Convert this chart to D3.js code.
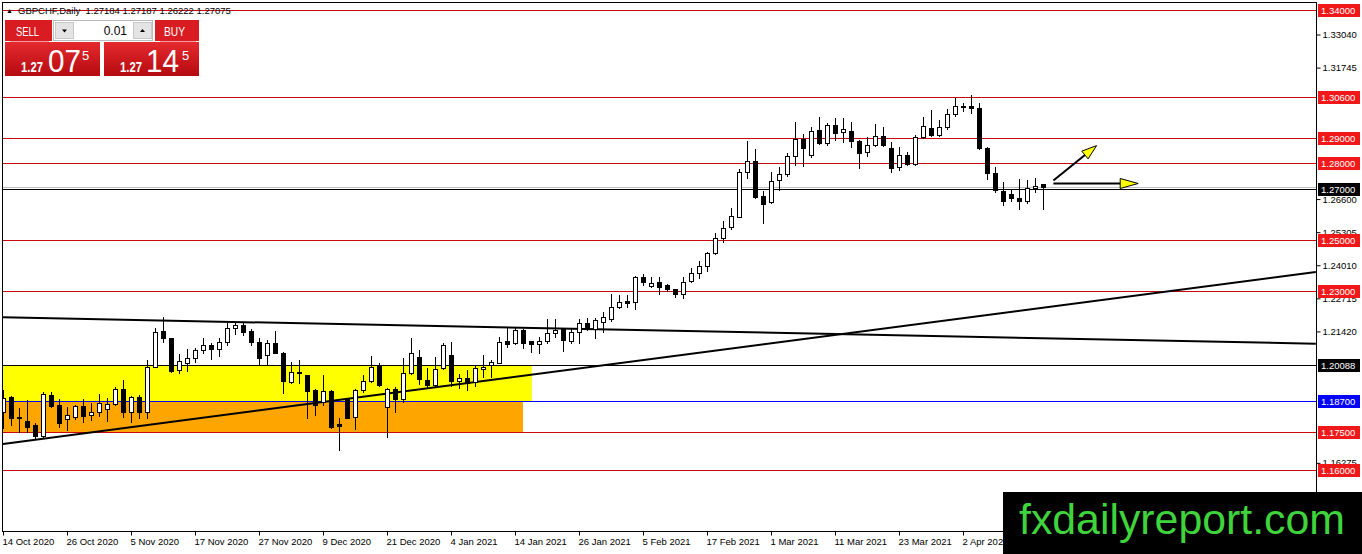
<!DOCTYPE html>
<html>
<head>
<meta charset="utf-8">
<script src="https://cdn.jsdelivr.net/npm/d3@7"></script>
<style>
    body { margin: 0; background: #fff; overflow: hidden; }
    svg text { font-family: "Liberation Sans", Arial, sans-serif; }
</style>
</head>
<body>
<svg id="chart"></svg>
<script>
const RED_LINE =    '#c80a0a';
const RED_BOX =     '#f01818';
const BLUE_LINE =   '#0000ff';
const YELLOW_ZONE = '#ffff00';
const ORANGE_ZONE = '#ffa500';
const MARK_GREEN =  '#3fd43c';

// Daily GBPCHF candles, 14 Oct 2020 .. 16 Apr 2021
const opens = [1.18279,1.18866,1.18070,1.17914,1.17758,1.17340,1.18931,1.18540,1.17979,1.18083,
    1.18501,1.18135,1.18253,1.18370,1.18566,1.19153,1.18279,1.18866,1.18279,1.20040,
    1.21436,1.21149,1.19910,1.20171,1.20366,1.20693,1.20888,1.20732,1.20993,1.21540,
    1.21671,1.21449,1.20993,1.20497,1.20953,1.20588,1.19453,1.19831,1.19701,1.19127,
    1.18670,1.19088,1.17784,1.18762,1.18057,1.19127,1.19492,1.20066,1.18475,1.19153,
    1.18762,1.19779,1.20405,1.19518,1.19323,1.19975,1.20484,1.19492,1.19584,1.19453,
    1.19936,1.20092,1.20197,1.21045,1.20953,1.21475,1.21045,1.20915,1.21045,1.21345,
    1.21502,1.21058,1.21384,1.21737,1.21515,1.21802,1.21893,1.22389,1.22598,1.22585,
    1.23537,1.23211,1.23341,1.23224,1.23067,1.22885,1.23407,1.23694,1.23981,1.24476,
    1.25063,1.25520,1.25911,1.27646,1.28090,1.26720,1.26498,1.27347,1.27568,1.28286,
    1.28938,1.28325,1.29303,1.28782,1.29499,1.29212,1.29277,1.28873,1.28429,1.28716,
    1.29069,1.28586,1.27842,1.28325,1.27973,1.29016,1.29369,1.29108,1.29408,1.29917,
    1.30243,1.30243,1.30151,1.28586,1.27634,1.26929,1.26785,1.26629,1.26525,1.27020,
    1.27184];
const highs = [1.19127,1.18892,1.18410,1.18736,1.17823,1.19062,1.19062,1.18762,1.18475,1.18540,
    1.18762,1.18631,1.18957,1.18801,1.19231,1.19518,1.18892,1.18931,1.20301,1.21540,
    1.21997,1.21175,1.20536,1.20719,1.20758,1.21149,1.20953,1.21149,1.21762,1.21801,
    1.21736,1.21501,1.21149,1.21084,1.21449,1.20627,1.20210,1.20301,1.19714,1.19153,
    1.19714,1.19127,1.18018,1.18801,1.19166,1.19714,1.20458,1.20171,1.19192,1.19257,
    1.20366,1.21149,1.20693,1.19975,1.20405,1.20953,1.21019,1.19740,1.19910,1.20105,
    1.20497,1.20301,1.21214,1.21580,1.21540,1.21502,1.21058,1.21215,1.21906,1.21906,
    1.21541,1.21515,1.21893,1.21932,1.21932,1.22167,1.22885,1.22846,1.22846,1.23589,
    1.23667,1.23563,1.23563,1.23276,1.23093,1.23563,1.23889,1.24176,1.24541,1.25259,
    1.25755,1.26238,1.27764,1.28873,1.28547,1.26916,1.27673,1.27842,1.28390,1.29630,
    1.29147,1.29434,1.29799,1.29564,1.29760,1.29760,1.29630,1.28912,1.29042,1.29538,
    1.29408,1.28847,1.28651,1.28429,1.29108,1.29825,1.30086,1.29695,1.30112,1.30543,
    1.30347,1.30673,1.30373,1.28625,1.27868,1.27282,1.26981,1.27373,1.27347,1.27412,
    1.27187];
const lows = [1.17627,1.17758,1.17496,1.17496,1.17196,1.17235,1.18475,1.17692,1.17562,1.17979,
    1.17888,1.17953,1.18109,1.17927,1.18540,1.18083,1.17888,1.18018,1.18018,1.20014,
    1.21019,1.19845,1.19805,1.19884,1.20236,1.20562,1.20327,1.20471,1.20888,1.21306,
    1.21280,1.20888,1.20145,1.20105,1.20562,1.19023,1.19414,1.19414,1.18018,1.18148,
    1.18540,1.17627,1.16779,1.18018,1.17588,1.19062,1.19453,1.19283,1.17301,1.18279,
    1.18670,1.19753,1.19362,1.19192,1.19257,1.19936,1.19283,1.19192,1.19127,1.19283,
    1.19649,1.19649,1.20171,1.20823,1.20927,1.20758,1.20600,1.20589,1.20954,1.21215,
    1.20667,1.20954,1.20954,1.21476,1.21149,1.21410,1.21841,1.22324,1.22389,1.22285,
    1.23237,1.23146,1.22872,1.23015,1.22754,1.22715,1.23367,1.23498,1.23798,1.24450,
    1.24907,1.25416,1.25885,1.27412,1.26629,1.25677,1.26459,1.26955,1.27503,1.27934,
    1.27894,1.28260,1.28742,1.28716,1.28912,1.28821,1.28625,1.27803,1.28299,1.28677,
    1.28677,1.27673,1.27738,1.27934,1.27934,1.28977,1.29082,1.29069,1.29330,1.29851,
    1.30060,1.29982,1.28547,1.27373,1.26890,1.26368,1.26538,1.26198,1.26459,1.26890,
    1.26222];
const closes = [1.18801,1.18018,1.18018,1.17692,1.17340,1.18957,1.18514,1.17823,1.18135,1.18501,
    1.18109,1.18253,1.18631,1.18566,1.19166,1.18279,1.18840,1.18266,1.20040,1.21410,
    1.21149,1.19871,1.20275,1.20366,1.20693,1.20888,1.20719,1.20993,1.21540,1.21671,
    1.21410,1.20993,1.20366,1.20953,1.20588,1.19492,1.19818,1.19779,1.19101,1.18540,
    1.19088,1.17692,1.17732,1.18044,1.19127,1.19492,1.20040,1.19323,1.19153,1.18762,
    1.19779,1.20562,1.19544,1.19323,1.19949,1.20875,1.19492,1.19584,1.19414,1.19975,
    1.20014,1.20223,1.21019,1.20927,1.21475,1.20953,1.20928,1.21045,1.21371,1.21476,
    1.21084,1.21410,1.21737,1.21515,1.21867,1.21972,1.22389,1.22559,1.22546,1.23537,
    1.23367,1.23328,1.23172,1.23067,1.22872,1.23367,1.23694,1.23981,1.24476,1.25063,
    1.25455,1.25937,1.27673,1.28090,1.26694,1.26394,1.27320,1.27568,1.28286,1.28938,
    1.28586,1.29277,1.28782,1.29499,1.29173,1.29330,1.28873,1.28416,1.28716,1.29069,
    1.28716,1.27803,1.28325,1.27973,1.29016,1.29460,1.29108,1.29408,1.29917,1.30243,
    1.30217,1.30177,1.28586,1.27634,1.26955,1.26538,1.26655,1.26525,1.27020,1.27125,
    1.27075];

// Time axis labels, one every 8 bars
const dateLabels = ['14 Oct 2020', '26 Oct 2020', '5 Nov 2020', '17 Nov 2020', '27 Nov 2020',
    '9 Dec 2020', '21 Dec 2020', '4 Jan 2021', '14 Jan 2021', '26 Jan 2021', '5 Feb 2021',
    '17 Feb 2021', '1 Mar 2021', '11 Mar 2021', '23 Mar 2021', '2 Apr 2021'];
// Price labels that are not hidden behind the level tags
const priceTicks = [1.33040, 1.31745, 1.26600, 1.25305, 1.24010, 1.22715, 1.21420, 1.16275];

// Horizontal levels drawn on the chart
const redLevels = [1.34000, 1.30600, 1.29000, 1.28000, 1.25000, 1.23000, 1.17500, 1.16000];
const blackLevels = [1.27000, 1.20088];
const blueLevels = [1.18700];
const bidPrice = 1.27075;

// Zones: [fromBar, toBar, topPrice, bottomPrice]
const yellowZone = [-1, 66.1, 1.20088, 1.18700];
const orangeZone = [-1, 65.0, 1.18700, 1.17500];

// Trend lines: [bar, price, bar, price], extended to the right edge
const trendDown = [0, 1.21973, 164.1, 1.20939];
const trendUp =   [0, 1.17014, 164.1, 1.23746];

// Arrows: [fromBar, fromPrice, toBar, toPrice]
const arrowUp =    [131.3, 1.27323, 136.7, 1.28693];
const arrowRight = [131.3, 1.27210, 141.9, 1.27210];

const title = 'GBPCHF,Daily  1.27184 1.27187 1.26222 1.27075';

function draw_chart() {
    const width = 1362;
    const height = 554;
    const plot = {left: 2, top: 2, right: 1316, bottom: 531};

    const svg = d3.select('svg#chart')
        .attr('width', width)
        .attr('height', height)
        .attr('viewBox', [0, 0, width, height]);

    const x = d3.scaleLinear().domain([0, 164.125]).range([3, plot.right]);
    const y = d3.scaleLinear().domain([1.16, 1.34]).range([469.9, 10]);
    const fmt = d3.format('.5f');

    svg.append('defs').append('clipPath').attr('id', 'plotclip')
        .append('rect')
        .attr('x', plot.left).attr('y', plot.top)
        .attr('width', plot.right - plot.left).attr('height', plot.bottom - plot.top);

    const g = svg.append('g').attr('clip-path', 'url(#plotclip)');

    // Zones
    [[yellowZone, YELLOW_ZONE], [orangeZone, ORANGE_ZONE]].forEach(([z, c]) => {
        g.append('rect')
            .attr('x', x(z[0]))
            .attr('y', Math.round(y(z[2])))
            .attr('width', x(z[1]) - x(z[0]))
            .attr('height', Math.round(y(z[3])) - Math.round(y(z[2])))
            .attr('fill', c);
    });

    // Level lines
    const levels = []
        .concat(redLevels.map(p => ({price: p, line: RED_LINE, box: RED_BOX})))
        .concat(blackLevels.map(p => ({price: p, line: '#000', box: '#000'})))
        .concat(blueLevels.map(p => ({price: p, line: BLUE_LINE, box: BLUE_LINE})));

    g.append('line')
        .attr('x1', plot.left).attr('x2', plot.right)
        .attr('y1', Math.round(y(bidPrice)) + 0.5).attr('y2', Math.round(y(bidPrice)) + 0.5)
        .attr('stroke', '#c0c0c0');

    g.selectAll('line.level')
        .data(levels)
        .join('line')
        .attr('class', 'level')
        .attr('x1', plot.left).attr('x2', plot.right)
        .attr('y1', d => Math.round(y(d.price)) + 0.5)
        .attr('y2', d => Math.round(y(d.price)) + 0.5)
        .attr('stroke', d => d.line)
        .attr('stroke-width', 1);

    // Trend lines
    [trendDown, trendUp].forEach(t => {
        g.append('line')
            .attr('x1', x(t[0])).attr('y1', y(t[1]))
            .attr('x2', x(t[2])).attr('y2', y(t[3]))
            .attr('stroke', '#000')
            .attr('stroke-width', 2);
    });

    // Candles
    const candles = opens.map((o, i) => ({i: i, o: o, h: highs[i], l: lows[i], c: closes[i]}));
    const cell = g.selectAll('g.candle')
        .data(candles)
        .join('g')
        .attr('class', 'candle')
        .attr('transform', d => `translate(${Math.round(x(d.i))},0)`);

    cell.append('line')
        .attr('x1', 0.5).attr('x2', 0.5)
        .attr('y1', d => Math.round(y(d.h)))
        .attr('y2', d => Math.round(y(d.l)) + 1)
        .attr('stroke', '#000');

    cell.append('rect')
        .attr('x', -1.5)
        .attr('width', 4)
        .attr('y', d => Math.round(y(Math.max(d.o, d.c))) + 0.5)
        .attr('height', d => Math.max(1, Math.round(y(Math.min(d.o, d.c))) - Math.round(y(Math.max(d.o, d.c)))))
        .attr('fill', d => d.c >= d.o ? '#fff' : '#000')
        .attr('stroke', '#000');

    // Arrows
    const arrow = (a, headLen) => {
        const x1 = x(a[0]), y1 = y(a[1]), x2 = x(a[2]), y2 = y(a[3]);
        const ang = Math.atan2(y2 - y1, x2 - x1);
        const bx = x2 - headLen * Math.cos(ang), by = y2 - headLen * Math.sin(ang);
        const w = 5;
        g.append('line')
            .attr('x1', x1).attr('y1', y1).attr('x2', bx).attr('y2', by)
            .attr('stroke', '#000').attr('stroke-width', 2);
        g.append('path')
            .attr('d', `M${x2},${y2}L${bx + w * Math.sin(ang)},${by - w * Math.cos(ang)}` +
                       `L${bx - w * Math.sin(ang)},${by + w * Math.cos(ang)}Z`)
            .attr('fill', YELLOW_ZONE)
            .attr('stroke', '#000')
            .attr('stroke-width', 1);
    };
    arrow(arrowUp, 15);
    arrow(arrowRight, 18);

    // Frame
    svg.append('rect')
        .attr('x', plot.left + 0.5).attr('y', plot.top + 0.5)
        .attr('width', plot.right - plot.left).attr('height', plot.bottom - plot.top)
        .attr('fill', 'none')
        .attr('stroke', '#000');

    // Price axis
    const yAxis = svg.append('g')
        .attr('transform', `translate(${plot.right + 0.5},0)`)
        .call(d3.axisRight(y).tickValues(priceTicks).tickFormat(fmt).tickSize(4).tickPadding(2));
    yAxis.select('.domain').remove();
    yAxis.selectAll('line').attr('stroke', '#000');
    yAxis.selectAll('text').attr('font-size', 9.5).attr('fill', '#000');

    const tags = svg.append('g').selectAll('g')
        .data(levels)
        .join('g')
        .attr('transform', d => `translate(${plot.right + 2},${Math.round(y(d.price))})`);
    tags.append('rect')
        .attr('x', 0).attr('y', -6)
        .attr('width', 42).attr('height', 13)
        .attr('fill', d => d.box);
    tags.append('text')
        .attr('x', 3).attr('y', 0.5).attr('dy', '0.35em')
        .attr('font-size', 9.5)
        .attr('fill', '#fff')
        .text(d => fmt(d.price));

    // Time axis
    const xAxis = svg.append('g')
        .attr('transform', `translate(0,${plot.bottom + 0.5})`)
        .call(d3.axisBottom(x)
            .tickValues(dateLabels.map((d, k) => k * 8))
            .tickFormat((d, k) => dateLabels[k])
            .tickSize(4).tickPadding(3));
    xAxis.select('.domain').remove();
    xAxis.selectAll('line').attr('stroke', '#000');
    xAxis.selectAll('text')
        .attr('font-size', 9.5)
        .attr('fill', '#000')
        .attr('text-anchor', 'start')
        .attr('dx', -1);

    // Title
    svg.append('text')
        .attr('x', 6).attr('y', 13)
        .attr('font-size', 7)
        .text('\u25B2');
    svg.append('text')
        .attr('x', 18).attr('y', 14)
        .attr('font-size', 9.5)
        .attr('fill', '#000')
        .attr('xml:space', 'preserve')
        .text(title);

    draw_panel(svg);

    // Watermark
    svg.append('rect')
        .attr('x', 1003).attr('y', 492)
        .attr('width', width - 1003).attr('height', height - 492)
        .attr('fill', '#000');
    svg.append('text')
        .attr('x', 1019).attr('y', 534)
        .attr('font-size', 42)
        .attr('fill', MARK_GREEN)
        .attr('textLength', 326)
        .attr('lengthAdjust', 'spacingAndGlyphs')
        .text('fxdailyreport.com');
}

/**
 * One-click trading panel in the top left corner.
 */
function draw_panel(svg) {
    const defs = svg.select('defs');
    const grad = defs.append('linearGradient')
        .attr('id', 'redgrad').attr('x1', 0).attr('x2', 0).attr('y1', 0).attr('y2', 1);
    grad.append('stop').attr('offset', 0).attr('stop-color', '#e52a2e');
    grad.append('stop').attr('offset', 1).attr('stop-color', '#b50a10');

    const p = svg.append('g');

    // sell / buy label buttons
    [[5, 47, 'SELL', 16, 23], [155, 44, 'BUY', 164, 21]].forEach(([bx, bw, label, tx, tw]) => {
        p.append('rect').attr('x', bx).attr('y', 20).attr('width', bw).attr('height', 21)
            .attr('fill', '#d81c22');
        p.append('line').attr('x1', bx + 5).attr('x2', bx + bw - 3).attr('y1', 41.5).attr('y2', 41.5)
            .attr('stroke', '#f0a0a0');
        p.append('text').attr('x', tx).attr('y', 36).attr('font-size', 13)
            .attr('textLength', tw).attr('lengthAdjust', 'spacingAndGlyphs')
            .attr('fill', '#fff').text(label);
    });

    // lot size spinner
    p.append('rect').attr('x', 53.5).attr('y', 20.5).attr('width', 99).attr('height', 20)
        .attr('fill', '#fff').attr('stroke', '#bbb');
    [55, 133].forEach(bx => {
        p.append('rect').attr('x', bx + 0.5).attr('y', 22.5).attr('width', 18).attr('height', 16)
            .attr('fill', '#e4e4e4').attr('stroke', '#c8c8c8');
    });
    p.append('path').attr('d', 'M62,29.5h5l-2.5,3z').attr('fill', '#000');
    p.append('path').attr('d', 'M140,32h5l-2.5,-3z').attr('fill', '#000');
    p.append('text').attr('x', 127).attr('y', 35).attr('font-size', 12)
        .attr('text-anchor', 'end').attr('fill', '#000').text('0.01');

    // big price boxes
    [[5, '1.27', '07', '5', 21, 48, 82], [104, '1.27', '14', '5', 120, 146, 182]].forEach(
        ([bx, big, pips, frac, x1, x2, x3]) => {
            p.append('rect').attr('x', bx).attr('y', 42).attr('width', 95).attr('height', 34)
                .attr('fill', 'url(#redgrad)');
            p.append('text').attr('x', x1).attr('y', 72).attr('font-size', 14)
                .attr('font-weight', 'bold').attr('fill', '#fff')
                .attr('textLength', 22).attr('lengthAdjust', 'spacingAndGlyphs').text(big);
            p.append('text').attr('x', x2).attr('y', 72).attr('font-size', 32)
                .attr('fill', '#fff')
                .attr('textLength', 33).attr('lengthAdjust', 'spacingAndGlyphs').text(pips);
            p.append('text').attr('x', x3).attr('y', 60).attr('font-size', 13)
                .attr('fill', '#fff').text(frac);
        });
}

draw_chart();
</script>
</body>
</html>
